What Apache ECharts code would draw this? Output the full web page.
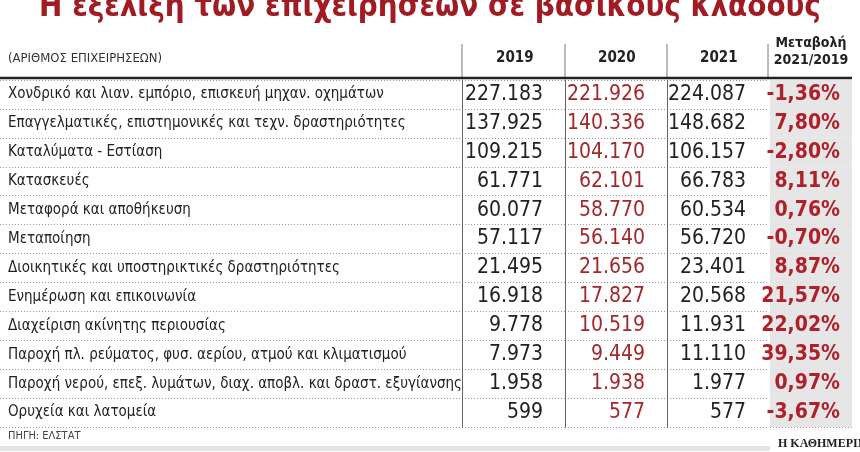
<!DOCTYPE html><html><head><meta charset="utf-8">
<script src="https://cdn.jsdelivr.net/npm/echarts@6/dist/echarts.min.js"></script>
<style>html,body{margin:0;background:#fff}#c{width:860px;height:452px}</style></head><body><div id="c"></div>
<script>
const sectors=["Χονδρικό και λιαν. εμπόριο, επισκευή μηχαν. οχημάτων","Επαγγελματικές, επιστημονικές και τεχν. δραστηριότητες","Καταλύματα - Εστίαση","Κατασκευές","Μεταφορά και αποθήκευση","Μεταποίηση","Διοικητικές και υποστηρικτικές δραστηριότητες","Ενημέρωση και επικοινωνία","Διαχείριση ακίνητης περιουσίας","Παροχή πλ. ρεύματος, φυσ. αερίου, ατμού και κλιματισμού","Παροχή νερού, επεξ. λυμάτων, διαχ. αποβλ. και δραστ. εξυγίανσης","Ορυχεία και λατομεία"];
const v2019=["227.183","137.925","109.215","61.771","60.077","57.117","21.495","16.918","9.778","7.973","1.958","599"];
const v2020=["221.926","140.336","104.170","62.101","58.770","56.140","21.656","17.827","10.519","9.449","1.938","577"];
const v2021=["224.087","148.682","106.157","66.783","60.534","56.720","23.401","20.568","11.931","11.110","1.977","577"];
const change=["-1,36%","7,80%","-2,80%","8,11%","0,76%","-0,70%","8,87%","21,57%","22,02%","39,35%","0,97%","-3,67%"];
const headers=["2019","2020","2021"];
const F='"Liberation Sans Narrow","DejaVu Sans Condensed",sans-serif';
const cols=[
 {texts:sectors,left:0,width:462,pos:'insideLeft',color:'#222',size:15,weight:'normal',bg:'rgba(0,0,0,0)',dist:8,axisLine:false},
 {texts:v2019,left:462,width:103,pos:'insideRight',color:'#222',size:21,weight:'normal',bg:'rgba(0,0,0,0)',dist:22,axisLine:true},
 {texts:v2020,left:565,width:102,pos:'insideRight',color:'#a3282b',size:21,weight:'normal',bg:'rgba(0,0,0,0)',dist:22,axisLine:true},
 {texts:v2021,left:667,width:101,pos:'insideRight',color:'#222',size:21,weight:'normal',bg:'rgba(0,0,0,0)',dist:22,axisLine:true},
 {texts:change,left:770,width:82,pos:'insideRight',color:'#b0202a',size:21,weight:'bold',bg:'#e6e6e6',dist:12,axisLine:false}
];
const gTop=80,gH=347;
const grid=[],xAxis=[],yAxis=[],series=[];
cols.forEach((c,i)=>{
 grid.push({left:c.left,width:c.width,top:gTop,height:gH});
 xAxis.push({gridIndex:i,type:'value',min:0,max:1,show:false});
 yAxis.push({gridIndex:i,type:'category',data:sectors,inverse:true,axisLabel:{show:false},axisTick:{show:false},
  axisLine:{show:c.axisLine,lineStyle:{color:'#666',width:1}},
  splitLine:{show:true,lineStyle:{color:'#999',type:[1,2],width:1}}});
 series.push({type:'bar',xAxisIndex:i,yAxisIndex:i,data:c.texts.map(()=>1),barCategoryGap:'0%',silent:true,
  itemStyle:{color:c.bg},
  label:{show:true,position:c.pos,distance:c.dist,color:c.color,fontSize:c.size,fontWeight:c.weight,fontFamily:F,
   formatter:p=>c.texts[p.dataIndex]}});
});
const hx=[541,643,745];
const graphic=[
 {type:'text',left:'center',top:-8,style:{text:'Η εξέλιξη των επιχειρήσεων σε βασικούς κλάδους',fill:'#a01c22',font:'bold 31px '+F}},
 {type:'text',x:8,y:52,style:{text:'(ΑΡΙΘΜΟΣ ΕΠΙΧΕΙΡΗΣΕΩΝ)',fill:'#333',font:'13px '+F}},
 ...headers.map((t,i)=>({type:'text',x:hx[i]-45,y:51,style:{text:t,fill:'#222',font:'bold 15px '+F}})),
 {type:'text',x:811,y:35,style:{text:'Μεταβολή\n2021/2019',fill:'#222',font:'bold 14px '+F,align:'center',lineHeight:17}},
 ...[462,565,667,768].map(x=>({type:'line',shape:{x1:x,y1:44,x2:x,y2:77},style:{stroke:'#777',lineWidth:1}})),
 {type:'line',shape:{x1:0,y1:78,x2:852,y2:78},style:{stroke:'#222',lineWidth:2.5}},
 {type:'text',x:8,y:431,style:{text:'ΠΗΓΗ: ΕΛΣΤΑΤ',fill:'#444',font:'11px '+F}},
 {type:'rect',shape:{x:0,y:446,width:770,height:5},style:{fill:'#e4e4e4'}},
 {type:'text',x:778,y:438,style:{text:'Η ΚΑΘΗΜΕΡΙΝΗ',fill:'#222',font:'bold 12px "Liberation Serif",serif'}}
];
const ch=echarts.init(document.getElementById('c'));
ch.setOption({animation:false,grid,xAxis,yAxis,series,graphic});
</script></body></html>
